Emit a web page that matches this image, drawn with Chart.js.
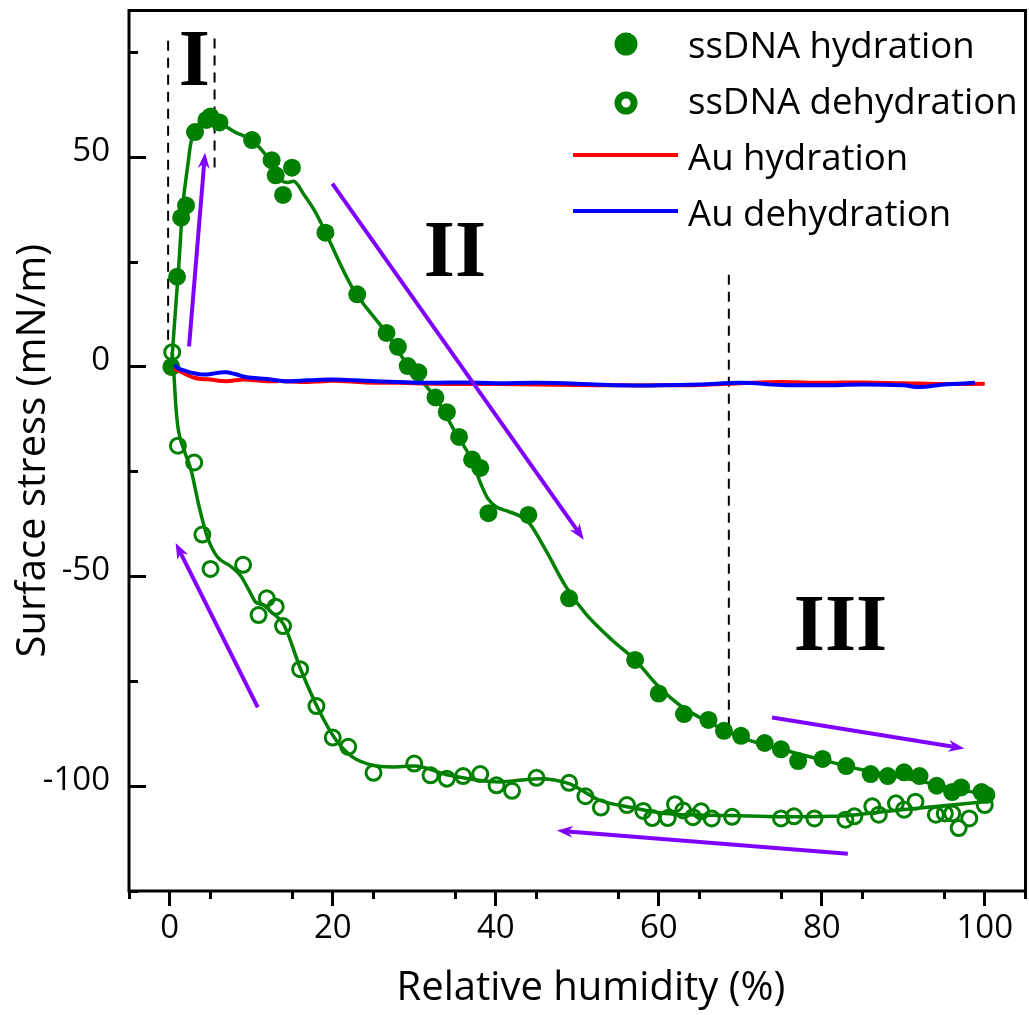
<!DOCTYPE html>
<html><head><meta charset="utf-8">
<script src="https://cdn.jsdelivr.net/npm/chart.js@4.4.1/dist/chart.umd.min.js"></script>
<style>html,body{margin:0;padding:0;background:#fff;overflow:hidden;width:1029px;height:1015px;} #wrap{width:1036px;height:1015px;position:relative;}</style>
</head><body><div id="wrap"><canvas id="c" width="1036" height="1015"></canvas></div>
<script>
// ---------- data ----------
const hydX = [0.2,0.9,1.4,2.0,3.1,4.5,5.0,6.1,10.1,12.5,13.0,13.9,15.0,19.1,23.0,26.6,28.0,29.2,30.5,32.6,34.0,35.5,37.1,38.1,39.1,44.0,49.0,57.1,60.0,63.1,66.1,68.0,70.1,73.0,75.0,77.1,80.1,83.0,86.0,88.1,90.1,92.0,94.1,96.0,97.1,99.6,100.2];
const hydY = [0,21.5,35.6,38.5,56,58.9,59.7,58.3,54.1,49.3,45.7,41.0,47.5,32.0,17.3,8.1,4.8,0.2,-1.3,-7.3,-10.8,-16.7,-22.1,-24.1,-34.9,-35.3,-55.2,-69.9,-77.9,-82.8,-84.2,-86.8,-88.0,-89.7,-91.2,-94.0,-93.5,-95.2,-97.1,-97.6,-96.7,-97.6,-99.9,-101.4,-100.3,-101.4,-102.1];

const dehX = [0.3,1.0,3.0,4.0,5.0,9.0,10.9,11.9,13.0,13.9,16.0,18.0,20.0,21.9,25.0,30.0,32.0,34.0,36.0,38.1,40.1,42.0,45.0,49.0,51.0,52.9,56.1,58.1,59.2,61.1,62.0,63.0,64.2,65.2,66.5,69.0,75.0,76.6,79.1,82.9,84.0,86.2,87.0,89.1,90.1,91.5,94.0,95.1,96.0,96.8,98.1,100.0];
const dehY = [3.5,-18.8,-22.8,-40.0,-48.2,-47.2,-59.2,-55.2,-57.2,-61.8,-72.1,-80.9,-88.4,-90.6,-96.8,-94.6,-97.4,-98.2,-97.6,-97.1,-99.8,-101.1,-98.0,-99.2,-102.4,-105.1,-104.5,-105.9,-107.6,-107.6,-104.3,-105.8,-107.4,-106.0,-107.7,-107.3,-107.7,-107.2,-107.7,-108.0,-107.2,-104.8,-106.8,-104.1,-105.6,-103.7,-106.8,-106.5,-106.5,-110.0,-107.7,-104.5];

const hydFitX = [0.2,0.5,1.1,1.6,2.2,2.6,3.4,4.5,6.0,8.0,10.1,12.4,13.8,14.5,15.2,16.5,17.9,22.4,26.6,29.0,31.0,33.0,35.0,37.0,38.3,39.0,40.0,41.6,43.2,44.1,46.1,48.6,51.0,54.3,57.1,60.0,62.8,66.1,70.0,75.0,80.0,85.0,90.0,95.0,100.0];
const hydFitY = [0,8.2,24,38.4,47.9,53.5,57.5,59,58.3,56,54,48.9,44.3,44,44.3,41,36.8,18.9,8,1,-3.5,-8.5,-15.5,-22,-28.5,-31.3,-33.3,-34.5,-35.8,-37.2,-43.6,-52.4,-58.8,-65.2,-69.9,-76.3,-81,-84.7,-88.3,-91.2,-93.7,-96.1,-98,-100,-102];

const dehFitX = [0.3,0.5,0.75,1.05,1.75,2.6,3.6,4.6,5.8,7.5,8.7,9.7,10.5,11.5,12.5,14.0,16.1,18.3,20.4,22.4,24.9,27.3,30.0,34.3,40.4,45.3,49.0,52.7,56.7,60.8,69.0,75.0,81.3,89.5,100.0];
const dehFitY = [3.5,-1.4,-9.4,-15,-19.8,-24.5,-33.3,-40.5,-45.2,-47.6,-49.8,-53.2,-56.0,-56.8,-58.5,-61.5,-72.3,-81.9,-89,-93,-95,-95.4,-95.2,-97.4,-99,-98.2,-99.4,-103.3,-105.1,-106.5,-107,-107.3,-107.2,-105.7,-103.7];

const auHydX = [0.5,1,2,3,4,5,6,7,8,9,10,12,14,16,18,20,24,28,32,36,40,45,50,55,60,65,70,75,80,85,90,95,100];
const auHydY = [-0.3,-0.8,-1.8,-2.6,-2.9,-3.0,-3.3,-3.4,-3.2,-3.0,-3.1,-3.4,-3.4,-3.6,-3.5,-3.3,-3.7,-3.8,-4.0,-4.1,-4.1,-4.2,-4.3,-4.4,-4.4,-4.3,-3.9,-3.6,-3.8,-3.7,-3.9,-4.1,-4.0];
const auDehX = [0.6,1,2,3,4,5,6,7,8,9,10,12,14,16,18,20,24,28,32,36,40,45,50,55,60,65,70,75,80,85,90,92,95,98.8];
const auDehY = [0.5,-0.3,-1.0,-1.5,-1.8,-1.7,-1.4,-1.3,-1.7,-2.3,-2.6,-2.9,-3.4,-3.3,-3.1,-3.0,-3.3,-3.6,-3.8,-3.7,-3.9,-3.8,-4.0,-4.4,-4.4,-4.2,-3.8,-4.3,-4.4,-4.2,-4.4,-4.8,-4.2,-3.8];

// region divider lines (dashed)
const dashX = [-0.2, 5.5, 68.6];
const dashTop = [77.8, 78.3, 22.0];
const dashBottom = [4.9, 47.5, -86.0];

// purple arrows: from (x1,y1) to tip (x2,y2)
const arrowX1 = [2.37, 19.95, 10.8, 73.9, 83.2];
const arrowY1 = [4.9, 43.7, -81.2, -83.6, -116.1];
const arrowX2 = [4.33, 50.8, 0.72, 97.5, 47.5];
const arrowY2 = [51.1, -41.2, -42.0, -91.0, -110.6];

// region labels
const regionText = ['I', 'II', 'III'];
const regionX = [3.0, 35.0, 82.3];
const regionY = [73.4, 27.8, -61.3];

// axis settings
const xMin = -5, xMax = 105, xMajor = 20, xMinor = 10;
const yMin = -125, yMax = 85, yMajor = 50, yMinor = 25;
const seriesLabels = ['ssDNA hydration', 'ssDNA dehydration', 'Au hydration', 'Au dehydration'];
const xTitle = 'Relative humidity (%)';
const yTitle = 'Surface stress (mN/m)';

// ---------- styling ----------
const GREEN = '#008000', RED = '#ff0000', BLUE = '#0000ff', PURPLE = '#8000ff';
const FONT = "'Open Sans'";

function pts(xs, ys) { return xs.map((x, i) => ({ x: x, y: ys[i] })); }
function noPad(s) { s.paddingTop = 0; s.paddingBottom = 0; s.paddingLeft = 0; s.paddingRight = 0; }

const datasets = [
  { label: seriesLabels[3], data: pts(auDehX, auDehY), borderColor: BLUE, borderWidth: 4, pointRadius: 0, tension: 0.4, order: 1, legendKind: 'line' },
  { label: seriesLabels[2], data: pts(auHydX, auHydY), borderColor: RED, borderWidth: 4, pointRadius: 0, tension: 0.4, order: 2, legendKind: 'line' },
  { label: seriesLabels[0], data: pts(hydX, hydY), showLine: false, pointRadius: 9, pointBackgroundColor: GREEN, pointBorderWidth: 0, pointBorderColor: GREEN, order: 3, legendKind: 'filled' },
  { label: seriesLabels[1], data: pts(dehX, dehY), showLine: false, pointRadius: 7.5, pointBackgroundColor: 'rgba(0,0,0,0)', pointBorderColor: GREEN, pointBorderWidth: 3, order: 4, legendKind: 'open' },
  { label: 'hydFit', data: pts(hydFitX, hydFitY), borderColor: GREEN, borderWidth: 3.5, pointRadius: 0, cubicInterpolationMode: 'monotone', order: 5 },
  { label: 'dehFit', data: pts(dehFitX, dehFitY), borderColor: GREEN, borderWidth: 3.5, pointRadius: 0, cubicInterpolationMode: 'monotone', order: 5 }
];
dashX.forEach((x, i) => {
  datasets.push({ label: 'dash' + i, data: [{ x: x, y: dashTop[i] }, { x: x, y: dashBottom[i] }], borderColor: '#000', borderWidth: 2, borderDash: [10, 7], pointRadius: 0, order: 6 });
});

const decorPlugin = {
  id: 'decor',
  afterDatasetsDraw(chart) {
    const ctx = chart.ctx, xs = chart.scales.x, ys = chart.scales.y, a = chart.chartArea;
    ctx.save();
    // arrows
    ctx.strokeStyle = PURPLE; ctx.fillStyle = PURPLE; ctx.lineWidth = 4; ctx.lineCap = 'butt';
    for (let i = 0; i < arrowX1.length; i++) {
      const x1 = xs.getPixelForValue(arrowX1[i]), y1 = ys.getPixelForValue(arrowY1[i]);
      const x2 = xs.getPixelForValue(arrowX2[i]), y2 = ys.getPixelForValue(arrowY2[i]);
      const ang = Math.atan2(y2 - y1, x2 - x1), c = Math.cos(ang), s = Math.sin(ang);
      const hl = 16, hw = 6, notch = 11;
      ctx.beginPath(); ctx.moveTo(x1, y1); ctx.lineTo(x2 - notch * c, y2 - notch * s); ctx.stroke();
      ctx.beginPath();
      ctx.moveTo(x2, y2);
      ctx.lineTo(x2 - hl * c - hw * s, y2 - hl * s + hw * c);
      ctx.lineTo(x2 - notch * c, y2 - notch * s);
      ctx.lineTo(x2 - hl * c + hw * s, y2 - hl * s - hw * c);
      ctx.closePath(); ctx.fill();
    }
    // region labels
    ctx.fillStyle = '#000';
    ctx.font = "bold 80px 'Liberation Serif'";
    ctx.textAlign = 'center'; ctx.textBaseline = 'middle';
    regionText.forEach((t, i) => {
      ctx.fillText(t, xs.getPixelForValue(regionX[i]), ys.getPixelForValue(regionY[i]) + 5);
    });
    // frame
    ctx.strokeStyle = '#000'; ctx.lineWidth = 3;
    ctx.strokeRect(a.left, a.top, a.right - a.left, a.bottom - a.top);
    // x axis title (centred as in the reference)
    ctx.font = '40px ' + FONT;
    ctx.textAlign = 'center'; ctx.textBaseline = 'alphabetic';
    ctx.fillText(xTitle, 591, 1000);
    // legend
    const rows = [
      { ds: 2, my: 44, ty: 58 },
      { ds: 3, my: 103, ty: 114 },
      { ds: 1, my: 155, ty: 170 },
      { ds: 0, my: 211, ty: 226 }
    ];
    ctx.textAlign = 'left'; ctx.textBaseline = 'alphabetic';
    ctx.font = '36.6px ' + FONT;
    rows.forEach(r => {
      const d = chart.data.datasets[r.ds];
      if (d.legendKind === 'filled') {
        ctx.fillStyle = d.pointBackgroundColor;
        ctx.beginPath(); ctx.arc(626, r.my, 11.5, 0, Math.PI * 2); ctx.fill();
      } else if (d.legendKind === 'open') {
        ctx.strokeStyle = d.pointBorderColor; ctx.lineWidth = 7;
        ctx.beginPath(); ctx.arc(626, r.my, 8, 0, Math.PI * 2); ctx.stroke();
      } else {
        ctx.strokeStyle = d.borderColor; ctx.lineWidth = 4;
        ctx.beginPath(); ctx.moveTo(573, r.my); ctx.lineTo(678, r.my); ctx.stroke();
      }
      ctx.fillStyle = '#000';
      ctx.fillText(d.label, 688, r.ty);
    });
    ctx.restore();
  }
};

function build() {
  new Chart(document.getElementById('c'), {
    type: 'line',
    data: { datasets: datasets },
    plugins: [decorPlugin],
    options: {
      responsive: false, animation: false, devicePixelRatio: 1,
      events: [],
      layout: { padding: { top: 10, right: 4, left: 0, bottom: 0 } },
      plugins: { legend: { display: false }, tooltip: { enabled: false } },
      scales: {
        x: {
          type: 'linear', position: 'bottom', min: xMin, max: xMax, weight: 1,
          ticks: { stepSize: xMajor, includeBounds: false, color: '#000', font: { family: FONT, size: 33 }, padding: 3, maxRotation: 0 },
          grid: { drawOnChartArea: false, tickLength: 15, tickWidth: 3, tickColor: '#000' },
          border: { display: false },
          title: { display: false },
          afterFit(s) { s.height = 124; noPad(s); }
        },
        xm: {
          type: 'linear', position: 'bottom', min: xMin, max: xMax, weight: 0,
          ticks: { stepSize: xMinor, includeBounds: false, display: false },
          grid: { drawOnChartArea: false, tickLength: 8, tickWidth: 3, tickColor: '#000' },
          border: { display: false },
          afterFit(s) { s.height = 0; noPad(s); }
        },
        y: {
          type: 'linear', position: 'left', min: yMin, max: yMax, weight: 1,
          ticks: { stepSize: yMajor, includeBounds: false, color: '#000', font: { family: FONT, size: 33 }, padding: 36, labelOffset: -6 },
          grid: { drawOnChartArea: false, tickLength: -17, tickWidth: 3, tickColor: '#000' },
          border: { display: false },
          title: { display: true, text: yTitle, color: '#000', font: { family: FONT, size: 40 }, padding: { top: 10, bottom: 0 } },
          afterFit(s) { s.width = 129; noPad(s); }
        },
        ym: {
          type: 'linear', position: 'left', min: yMin, max: yMax, weight: 0,
          ticks: { stepSize: yMinor, includeBounds: false, display: false },
          grid: { drawOnChartArea: false, tickLength: -9, tickWidth: 3, tickColor: '#000' },
          border: { display: false },
          afterFit(s) { s.width = 0; noPad(s); }
        }
      }
    }
  });
}
Promise.all([
  document.fonts.load("33px 'Open Sans'"),
  document.fonts.load("bold 80px 'Liberation Serif'")
]).then(build, build);
</script>
</body></html>
